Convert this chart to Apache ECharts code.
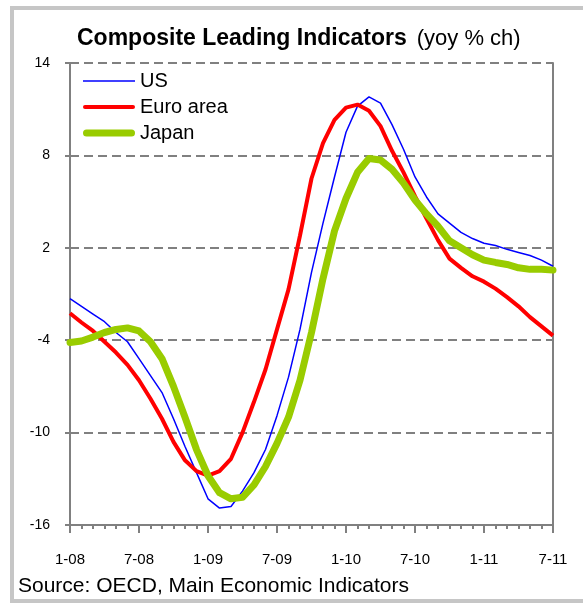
<!DOCTYPE html>
<html>
<head>
<meta charset="utf-8">
<script src="https://cdn.jsdelivr.net/npm/echarts@6/dist/echarts.min.js"></script>
<style>
    html, body { margin: 0; padding: 0; background: #fff; }
    #frame { position: absolute; left: 10px; top: 6px; width: 600px; height: 589px; border: 4px solid #c6c6c6; }
    #main { position: absolute; left: 0; top: 0; width: 583px; height: 603px; }
</style>
</head>
<body>
<div id="frame"></div>
<div id="main"></div>
<script>
var months = [
    '1-08','2-08','3-08','4-08','5-08','6-08','7-08','8-08','9-08','10-08','11-08','12-08',
    '1-09','2-09','3-09','4-09','5-09','6-09','7-09','8-09','9-09','10-09','11-09','12-09',
    '1-10','2-10','3-10','4-10','5-10','6-10','7-10','8-10','9-10','10-10','11-10','12-10',
    '1-11','2-11','3-11','4-11','5-11','6-11','7-11'
];

var us = [
    -1.3, -1.8, -2.3, -2.8, -3.5, -4.1, -5.2, -6.3, -7.4, -9.1, -10.9, -12.6,
    -14.3, -14.9, -14.8, -13.8, -12.6, -11.1, -8.9, -6.4, -3.3, 0.4, 3.6, 6.6,
    9.5, 11.2, 11.8, 11.4, 10.0, 8.4, 6.6, 5.3, 4.2, 3.6, 3.0, 2.6,
    2.3, 2.15, 1.9, 1.7, 1.5, 1.2, 0.8
];

var euro = [
    -2.25, -2.85, -3.4, -4.1, -4.8, -5.6, -6.6, -7.8, -9.1, -10.6, -11.8, -12.5,
    -12.8, -12.5, -11.7, -10.0, -8.0, -5.9, -3.3, -0.7, 2.8, 6.5, 8.8, 10.3,
    11.1, 11.3, 10.9, 9.9, 8.3, 6.9, 5.35, 3.9, 2.5, 1.3, 0.7, 0.15,
    -0.2, -0.65, -1.2, -1.8, -2.5, -3.1, -3.7
];

var japan = [
    -4.15, -4.05, -3.8, -3.5, -3.3, -3.2, -3.4, -4.1, -5.2, -7.0, -9.0, -11.1,
    -12.8, -13.9, -14.3, -14.2, -13.4, -12.2, -10.7, -9.0, -6.6, -3.5, 0.0, 3.1,
    5.2, 6.9, 7.8, 7.7, 7.1, 6.2, 5.1, 4.2, 3.4, 2.45, 2.0, 1.55,
    1.2, 1.05, 0.92, 0.7, 0.6, 0.6, 0.55
];

var yTicks = [-16, -10, -4, 2, 8, 14];

function pairs(arr) {
    var out = [];
    for (var i = 0; i < arr.length; i++) {
        out.push([i, arr[i]]);
    }
    return out;
}

var font = 'Liberation Sans, Arial, sans-serif';

var option = {
    animation: false,
    textStyle: { fontFamily: font },
    title: {
        text: '{b|Composite Leading Indicators}  {n|(yoy % ch)}',
        left: 72,
        top: 22,
        textStyle: {
            fontWeight: 'normal',
            rich: {
                b: { fontFamily: font, fontSize: 23, fontWeight: 'bold', color: '#000' },
                n: { fontFamily: font, fontSize: 22, fontWeight: 'normal', color: '#000' }
            }
        }
    },
    legend: {
        orient: 'vertical',
        left: 78,
        top: 66,
        itemWidth: 52,
        itemHeight: 14,
        itemGap: 6,
        itemStyle: { borderWidth: 0 },
        textStyle: { fontFamily: font, fontSize: 20, lineHeight: 20, color: '#000' },
        data: [
            { name: 'US', icon: 'path://M0,0H52V1.5H0Z' },
            { name: 'Euro area', icon: 'path://M2,0H50A2,2,0,0,1,50,4H2A2,2,0,0,1,2,0Z' },
            { name: 'Japan', icon: 'path://M3.5,0H48.5A3.5,3.5,0,0,1,48.5,7H3.5A3.5,3.5,0,0,1,3.5,0Z' }
        ]
    },
    grid: {
        left: 70,
        right: 30,
        top: 63,
        bottom: 78
    },
    xAxis: {
        type: 'value',
        min: 0,
        max: months.length - 1,
        interval: 6,
        axisLine: { show: true, onZero: false, lineStyle: { color: '#808080', width: 2 } },
        axisTick: { show: true, length: 8, lineStyle: { color: '#808080', width: 2 } },
        minorTick: { show: true, splitNumber: 6, length: 4, lineStyle: { color: '#808080', width: 2 } },
        splitLine: { show: false },
        axisLabel: {
            margin: 27,
            fontSize: 15,
            color: '#000',
            fontFamily: font,
            formatter: function (v) { return months[v]; }
        }
    },
    yAxis: [
        {
            type: 'value',
            min: yTicks[0],
            max: yTicks[yTicks.length - 1],
            interval: 6,
            axisLine: { show: true, lineStyle: { color: '#808080', width: 2 } },
            axisTick: { show: true, length: 5, lineStyle: { color: '#808080', width: 2 } },
            splitLine: { show: true, lineStyle: { color: '#808080', width: 2, type: [9, 5] } },
            axisLabel: { margin: 20, fontSize: 14, color: '#000', fontFamily: font }
        },
        {
            type: 'value',
            position: 'right',
            min: yTicks[0],
            max: yTicks[yTicks.length - 1],
            interval: 6,
            axisLine: { show: true, lineStyle: { color: '#808080', width: 2 } },
            axisTick: { show: false },
            splitLine: { show: false },
            axisLabel: { show: false }
        }
    ],
    series: [
        {
            name: 'US',
            type: 'line',
            symbol: 'none',
            lineStyle: { color: '#0000ff', width: 1.5 },
            itemStyle: { color: '#0000ff' },
            data: pairs(us)
        },
        {
            name: 'Euro area',
            type: 'line',
            symbol: 'none',
            lineStyle: { color: '#ff0000', width: 4 },
            itemStyle: { color: '#ff0000' },
            data: pairs(euro)
        },
        {
            name: 'Japan',
            type: 'line',
            symbol: 'none',
            lineStyle: { color: '#99cc00', width: 7, cap: 'round', join: 'round' },
            itemStyle: { color: '#99cc00' },
            data: pairs(japan)
        }
    ],
    graphic: [
        {
            type: 'text',
            left: 18,
            top: 576,
            style: { text: 'Source: OECD, Main Economic Indicators', font: '21px ' + font, fill: '#000' }
        }
    ]
};

var chart = echarts.init(document.getElementById('main'), null, { renderer: 'canvas' });
chart.setOption(option);
</script>
</body>
</html>
